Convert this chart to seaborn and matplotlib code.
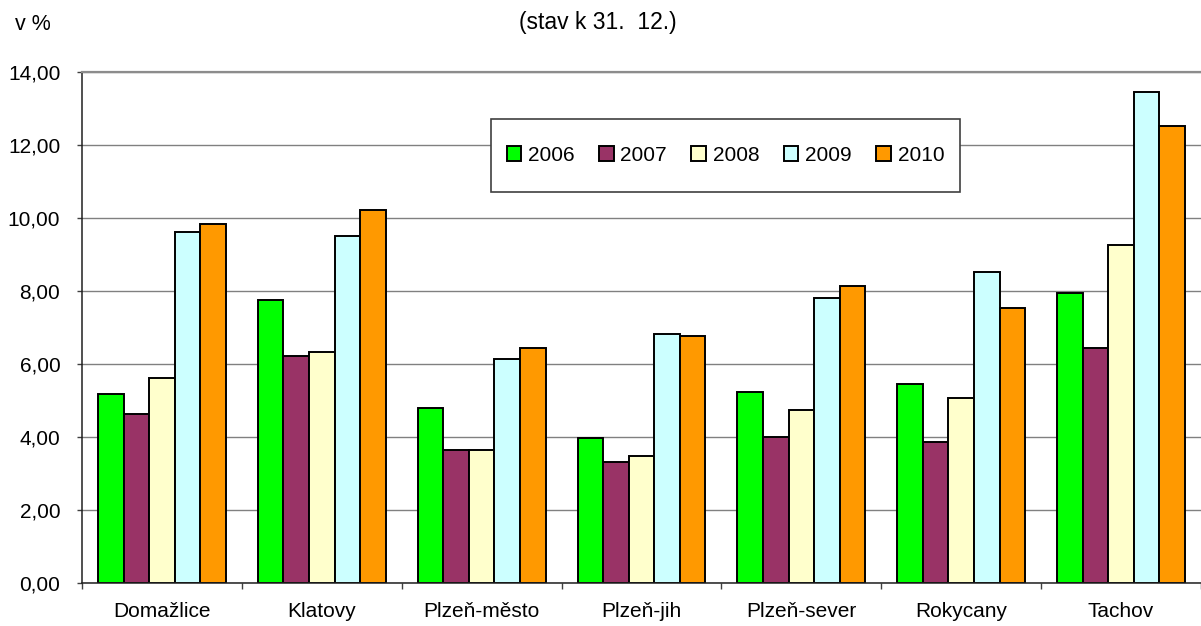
import numpy as np
import pandas as pd
import seaborn as sns
import matplotlib.pyplot as plt
from matplotlib.patches import Rectangle
from matplotlib.ticker import FuncFormatter, FixedLocator

districts = ["Domažlice", "Klatovy", "Plzeň-město", "Plzeň-jih",
             "Plzeň-sever", "Rokycany", "Tachov"]
years = ["2006", "2007", "2008", "2009", "2010"]

rate_2006 = [5.17, 7.74, 4.79, 3.96, 5.22, 5.45, 7.95]
rate_2007 = [4.63, 6.21, 3.64, 3.31, 4.01, 3.85, 6.44]
rate_2008 = [5.61, 6.33, 3.64, 3.47, 4.73, 5.06, 9.27]
rate_2009 = [9.61, 9.50, 6.15, 6.82, 7.81, 8.52, 13.46]
rate_2010 = [9.84, 10.23, 6.43, 6.77, 8.13, 7.53, 12.52]

colors = ["#00FF00", "#993366", "#FFFFCC", "#CCFFFF", "#FF9900"]

df = pd.DataFrame({
    "okres": districts * 5,
    "rok": np.repeat(years, len(districts)),
    "hodnota": rate_2006 + rate_2007 + rate_2008 + rate_2009 + rate_2010,
})

sns.set_style("white")
plt.rcParams["font.family"] = ["Liberation Sans", "DejaVu Sans"]
plt.rcParams["text.color"] = "black"
plt.rcParams["xtick.color"] = "black"
plt.rcParams["ytick.color"] = "black"

fig = plt.figure(figsize=(12.01, 6.26), dpi=100)
ax = fig.add_axes([82 / 1201, 1 - 583 / 626, 1119 / 1201, 511 / 626])

sns.barplot(data=df, x="okres", y="hodnota", hue="rok", order=districts,
            hue_order=years, palette=colors, edgecolor="black",
            linewidth=1.4, width=0.8, saturation=1, ax=ax)

ax.set_xlim(-0.5, 6.5)
ax.set_ylim(0, 14)
ax.set_yticks(np.arange(0, 15, 2))
ax.yaxis.set_major_formatter(FuncFormatter(lambda v, p: f"{v:.2f}".replace(".", ",")))
ax.set_xlabel("")
ax.set_ylabel("")

# ticks between the district groups
ax.xaxis.set_minor_locator(FixedLocator(np.arange(-0.5, 7, 1)))
ax.tick_params(axis="x", which="major", length=0, pad=13.5, labelsize=15)
ax.tick_params(axis="x", which="minor", length=4.5, width=1, color="#404040",
               bottom=True, direction="out")
ax.tick_params(axis="y", which="major", length=3.6, width=1, color="#404040",
               left=True, direction="out", pad=12, labelsize=15)

ax.grid(axis="y", color="#808080", linewidth=1)
ax.set_axisbelow(True)
ax.spines["right"].set_visible(False)
ax.spines["top"].set_color("#8c8c8c")
ax.spines["top"].set_linewidth(1.6)
ax.spines["left"].set_color("#202020")
ax.spines["bottom"].set_color("#202020")
ax.spines["left"].set_linewidth(1.1)
ax.spines["bottom"].set_linewidth(1.1)

# legend box drawn separately so the padding can differ per direction
box = (0.3655, 0.7652, 0.4191, 0.1428)
ax.add_patch(Rectangle(box[:2], box[2], box[3], transform=ax.transAxes,
                       facecolor="white", edgecolor="#404040", linewidth=1.2,
                       zorder=4.9))
leg = ax.legend(loc="center", bbox_to_anchor=box, mode="expand", ncol=5,
                fontsize=15, frameon=False, borderpad=0.75, handlelength=0.7,
                handleheight=0.7, handletextpad=0.33, borderaxespad=0)

fig.text(0.498, 1 - 23 / 626, "(stav k 31.  12.)", ha="center", va="center",
         fontsize=16.5)
fig.text(15 / 1201, 1 - 25 / 626, "v %", ha="left", va="center", fontsize=15.5)

fig.savefig("out.png", dpi=100)
plt.close(fig)
